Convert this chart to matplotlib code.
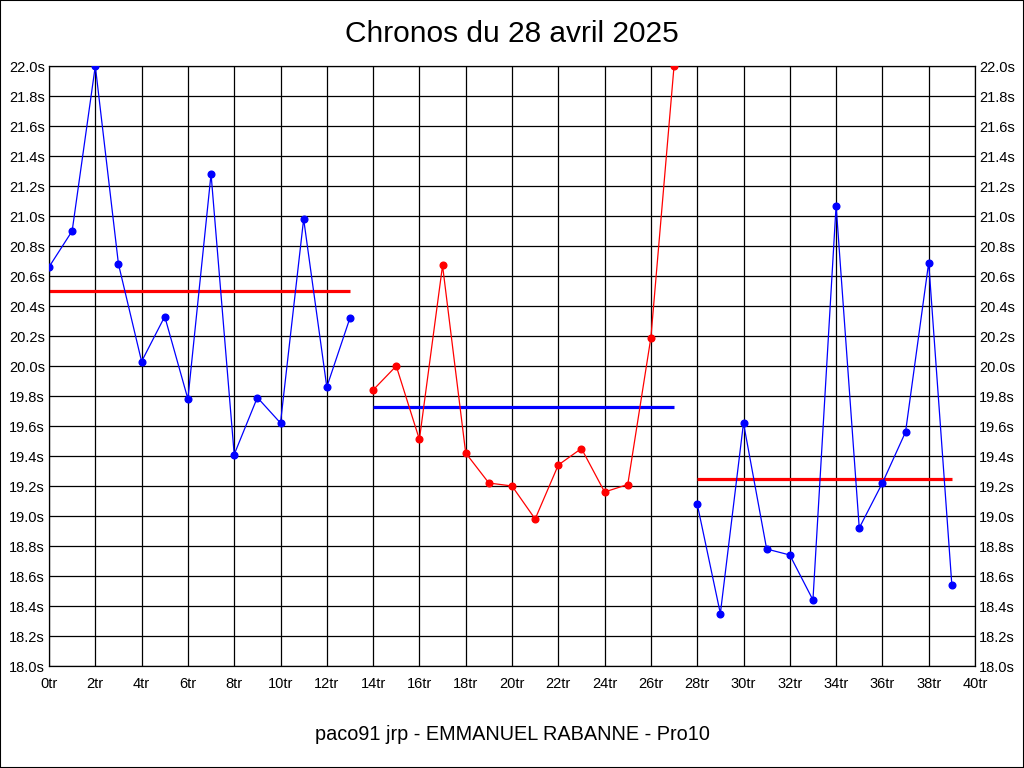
import matplotlib
matplotlib.use('Agg')
import matplotlib.pyplot as plt
from matplotlib.patches import Rectangle

plt.rcParams['font.family'] = ['Liberation Sans', 'DejaVu Sans']

# Chronos par série (tours 0..39)
serie1_x = list(range(0, 14))
serie1_y = [20.66, 20.90, 22.00, 20.68, 20.03, 20.33, 19.78, 21.28, 19.41, 19.79,
            19.62, 20.98, 19.86, 20.32]
serie2_x = list(range(14, 28))
serie2_y = [19.84, 20.00, 19.51, 20.67, 19.42, 19.22, 19.20, 18.98, 19.34, 19.45,
            19.16, 19.21, 20.19, 22.00]
serie3_x = list(range(28, 40))
serie3_y = [19.08, 18.35, 19.62, 18.78, 18.74, 18.44, 21.07, 18.92, 19.22, 19.56,
            20.69, 18.54]

# Lignes de moyenne (début, fin, valeur)
moyennes = [(0, 13, 20.50), (14, 27, 19.73), (28, 39, 19.25)]
couleurs_series = ['#0000ff', '#ff0000', '#0000ff']
couleurs_moy = ['#ff0000', '#0000ff', '#ff0000']

x_ticks = list(range(0, 41, 2))
x_labels = [f'{t}tr' for t in x_ticks]
y_ticks = [18.0 + 0.2 * i for i in range(21)]
y_labels = [f'{t:.1f}s' for t in y_ticks]

fig = plt.figure(figsize=(10.24, 7.68), dpi=100)
ax = fig.add_axes([49 / 1024, 102 / 768, 926 / 1024, 600 / 768])

series = [(serie1_x, serie1_y), (serie2_x, serie2_y), (serie3_x, serie3_y)]
for (sx, sy), c in zip(series, couleurs_series):
    ax.plot(sx, sy, color=c, linewidth=0.9, marker='o', markersize=4.8,
            zorder=3)

for (x0, x1, v), c in zip(moyennes, couleurs_moy):
    ax.plot([x0, x1], [v, v], color=c, linewidth=2.3, solid_capstyle='butt',
            zorder=2)

ax.set_xlim(0, 40)
ax.set_ylim(18.0, 22.0)
ax.set_xticks(x_ticks)
ax.set_xticklabels(x_labels)
ax.set_yticks(y_ticks)
ax.set_yticklabels(y_labels)
ax.grid(True, color='black', linewidth=0.9)
ax.set_axisbelow(True)
ax.tick_params(axis='both', length=0, labelsize=10.5)
ax.tick_params(axis='x', pad=8)
ax.tick_params(axis='y', labelright=True, labelleft=True, pad=3)
for s in ax.spines.values():
    s.set_linewidth(0.9)

fig.text(0.5, 1 - 34 / 768, 'Chronos du 28 avril 2025', ha='center',
         va='center', fontsize=21.5)
fig.text(0.5, 1 - 735 / 768, 'paco91 jrp - EMMANUEL RABANNE - Pro10',
         ha='center', va='center', fontsize=14.3)

fig.patches.append(Rectangle((0, 0), 1, 1, transform=fig.transFigure,
                             fill=False, edgecolor='black', linewidth=1.5))

fig.savefig('out.png', dpi=100)
